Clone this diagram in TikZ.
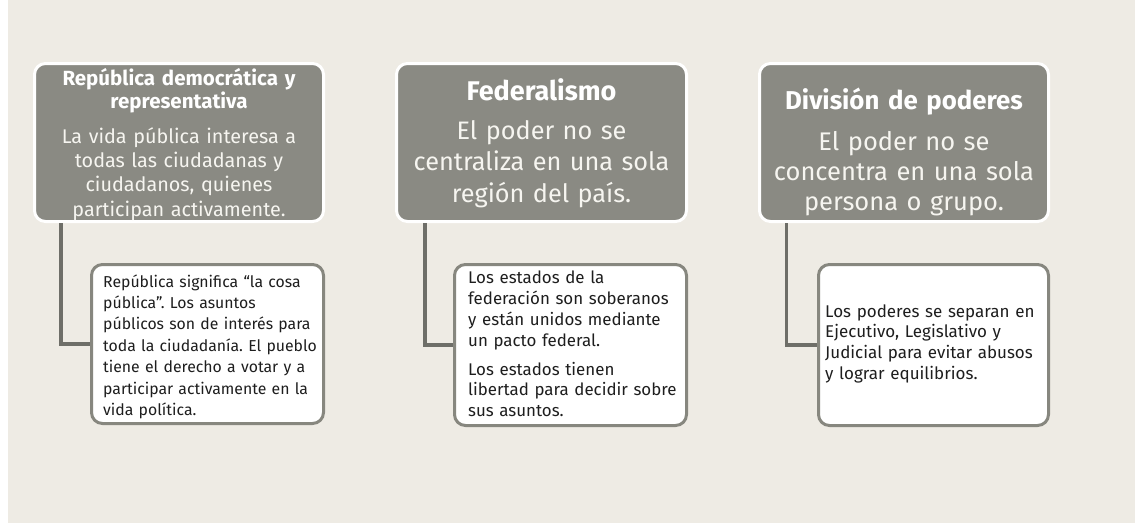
\documentclass[tikz,border=0pt]{standalone}
\usepackage{fontspec}
\setmainfont[WordSpace=0.85]{Fira Sans}
\definecolor{bgbeige}{HTML}{EEEBE4}
\definecolor{boxgray}{HTML}{8A8A83}
\definecolor{notegray}{HTML}{87877F}
\definecolor{conngray}{HTML}{6E6E68}
\definecolor{bodywhite}{HTML}{F6F5F0}
\definecolor{notetext}{HTML}{1E1E1E}
\frenchspacing
\begin{document}
\begin{tikzpicture}[x=1pt,y=-1pt,
  darkbox/.style={draw=white,line width=3pt,fill=boxgray,rounded corners=11pt,minimum width=289pt,minimum height=158pt,inner sep=0pt},
  notebox/.style={draw=notegray,line width=3pt,fill=white,rounded corners=11pt,minimum width=232pt,minimum height=160pt,inner sep=0pt},
  conn/.style={draw=conngray,line width=3.5pt},
  ttl/.style={text=white,align=center,anchor=base,inner sep=0pt,text width=300pt},
  bdy/.style={text=bodywhite,align=center,anchor=base,inner sep=0pt,text width=300pt},
  note/.style={text=notetext,align=left,anchor=base west,inner sep=0pt,text width=300pt}]
\useasboundingbox (0,0) rectangle (1135,523);
\fill[white] (0,0) rectangle (1135,523);
\fill[bgbeige] (8,0) rectangle (1135,523);

% dark boxes
\node[darkbox] (d1) at (179,142.5) {};
\node[darkbox,minimum width=290pt] (d2) at (541.5,142.5) {};
\node[darkbox] (d3) at (904,142.5) {};

% note boxes
\node[notebox,minimum height=159pt] (w1) at (207.5,344) {};
\node[notebox,minimum height=161pt] (w2) at (570.5,345) {};
\node[notebox,minimum width=230pt,minimum height=161pt] (w3) at (933.5,345) {};

% connectors
\draw[conn] ([xshift=28pt]d1.south west) |- (w1.west);
\draw[conn] ([xshift=30pt]d2.south west) |- (w2.west);
\draw[conn] ([xshift=28.5pt]d3.south west) |- (w3.west);

% titles
\node[ttl,font=\bfseries\fontsize{20.5}{23}\selectfont] (t1) at (179,85) {República democrática y\\representativa};
\node[ttl,font=\bfseries\fontsize{27}{30}\selectfont] (t2) at (541.5,100) {Federalismo};
\node[ttl,font=\bfseries\fontsize{25.8}{30}\selectfont] (t3) at (904,109) {División de poderes};

% bodies
\node[bdy,font=\fontsize{19.8}{24.4}\selectfont] (b1) at (179,143) {La vida pública interesa a\\todas las ciudadanas y\\ciudadanos, quienes\\participan activamente.};
\node[bdy,font=\fontsize{25.3}{31.5}\selectfont] (b2) at (541.5,139) {El poder no se\\centraliza en una sola\\región del país.};
\node[bdy,font=\fontsize{25.5}{30}\selectfont] (b3) at (904,150) {El poder no se\\concentra en una sola\\persona o grupo.};

% notes
\node[note,font=\fontsize{15.8}{21.4}\selectfont] (n1) at (103,287) {República significa “la cosa\\pública”. Los asuntos\\públicos son de interés para\\toda la ciudadanía. El pueblo\\tiene el derecho a votar y a\\participar activamente en la\\vida política.};
\node[note,font=\fontsize{16.9}{21}\selectfont] (n2a) at (468,283) {Los estados de la\\federación son soberanos\\y están unidos mediante\\un pacto federal.};
\node[note,font=\fontsize{16.9}{20.5}\selectfont] (n2b) at (468,375) {Los estados tienen\\libertad para decidir sobre\\sus asuntos.};
\node[note,font=\fontsize{17}{20.7}\selectfont] (n3) at (825,317) {Los poderes se separan en\\Ejecutivo, Legislativo y\\Judicial para evitar abusos\\y lograr equilibrios.};
\end{tikzpicture}
\end{document}
